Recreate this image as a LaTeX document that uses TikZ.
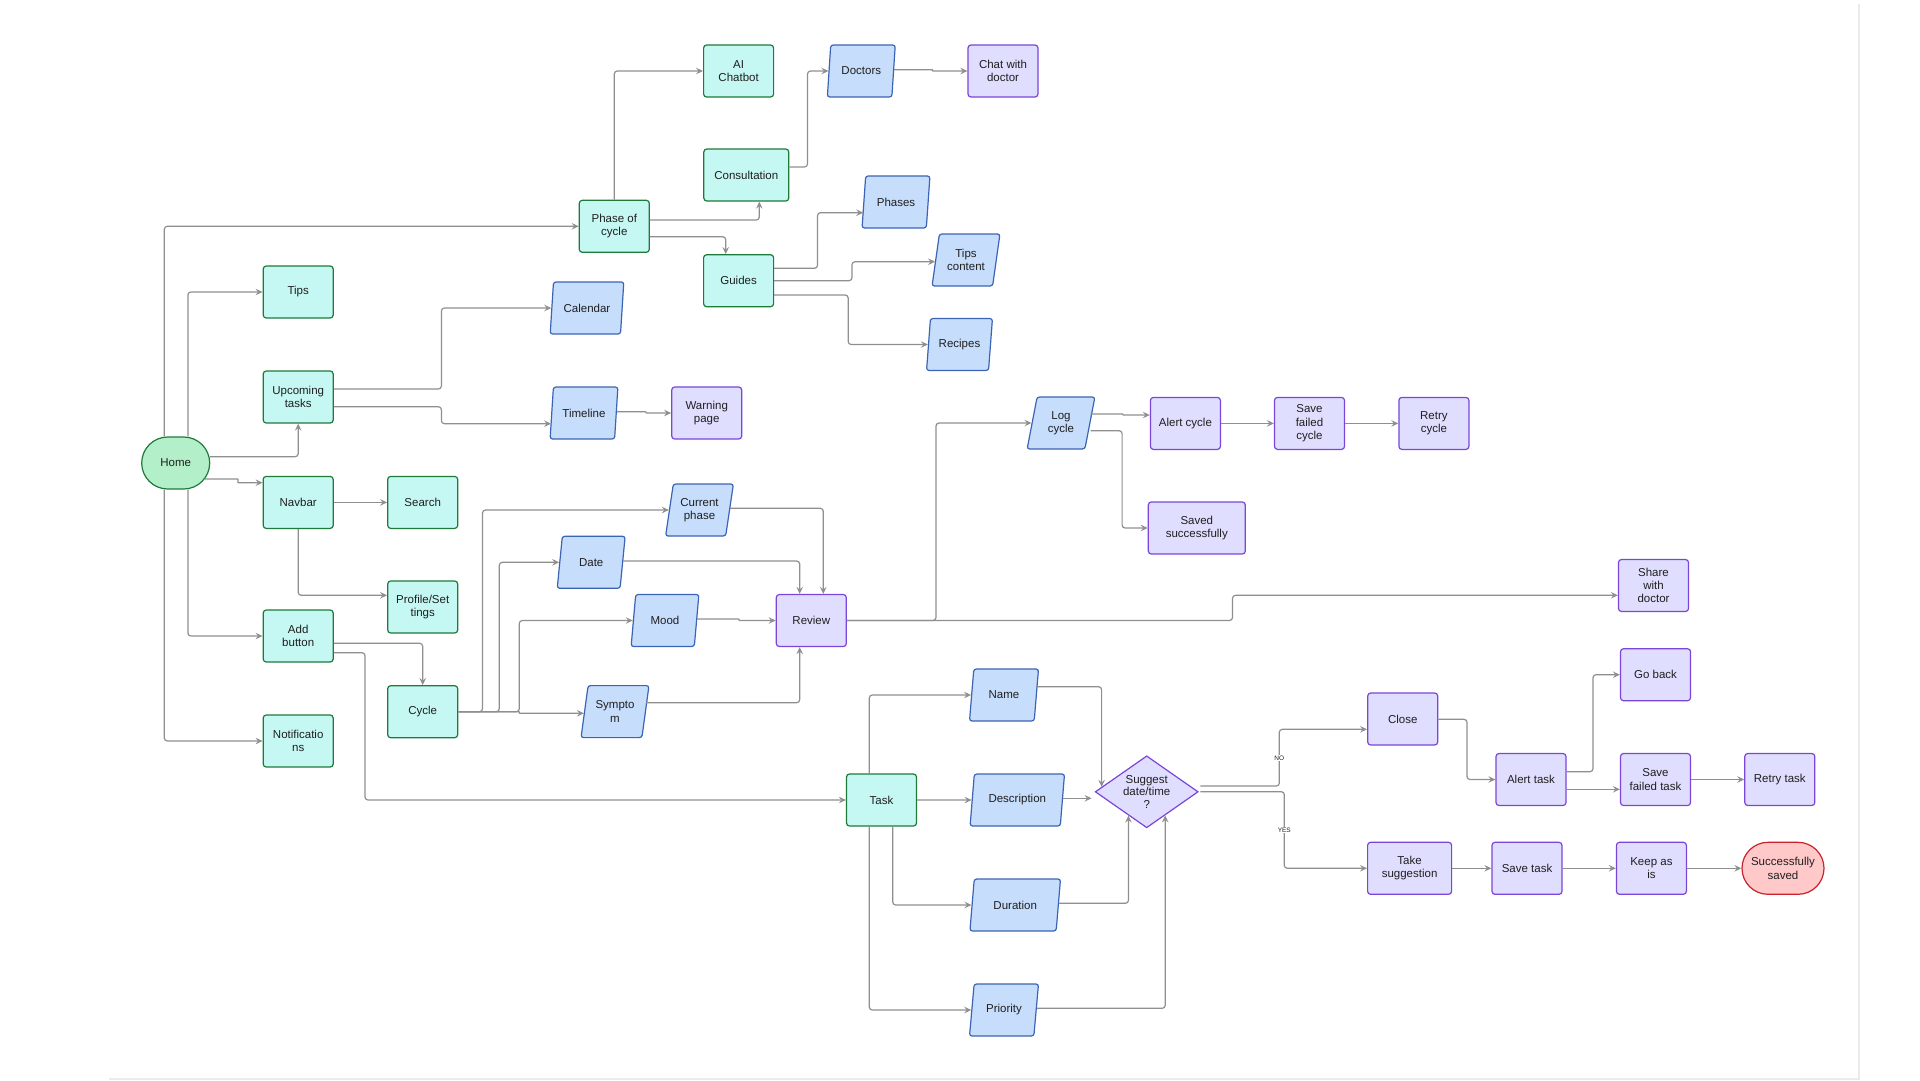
\documentclass[tikz,border=0pt]{standalone}
\usepackage{fontspec}
\setmainfont{Liberation Sans}
\usetikzlibrary{shapes.geometric,shapes.misc,arrows.meta,calc}

\definecolor{tealF}{HTML}{C5F8F2}
\definecolor{tealD}{HTML}{1F7A3A}
\definecolor{homeF}{HTML}{B3F0C9}
\definecolor{blueF}{HTML}{C7DDFC}
\definecolor{blueD}{HTML}{3C64B4}
\definecolor{purF}{HTML}{E0DEFF}
\definecolor{purD}{HTML}{7A45D8}
\definecolor{redF}{HTML}{FFC9C9}
\definecolor{redD}{HTML}{C8232C}
\definecolor{connc}{HTML}{8F8F8F}
\definecolor{txt}{HTML}{1F1F1F}
\definecolor{framec}{HTML}{EBEBEB}

\tikzset{
  base/.style={align=center, font=\fontsize{11.5}{13.3}\selectfont, text=txt,
    line width=1.2pt, inner sep=1pt, minimum height=52},
  proc/.style={base, rectangle, rounded corners=3, draw=tealD, fill=tealF, minimum width=#1},
  proc/.default=70,
  pur/.style={base, rectangle, rounded corners=3, draw=purD, fill=purF, minimum width=#1},
  pur/.default=70,
  inp/.style={base, trapezium, trapezium left angle=77, trapezium right angle=103,
    trapezium stretches=true, rounded corners=2.5, draw=blueD, fill=blueF, minimum width=#1},
  inp/.default=68,
  startnode/.style={base, rounded rectangle, draw=tealD, fill=homeF, minimum width=70},
  endnode/.style={base, rounded rectangle, draw=redD, fill=redF, minimum width=84},
  decis/.style={base, diamond, aspect=1.43, inner sep=0pt, draw=purD, fill=purF,
    font=\fontsize{11.5}{12.8}\selectfont, minimum width=103, minimum height=72},
  conn/.style={draw=connc, line width=1.2pt, rounded corners=3,
    -{Stealth[length=7pt,width=6.5pt,inset=2.5pt]}},
  jog/.style={conn, rounded corners=0.4},
  lbl/.style={font=\fontsize{6.5}{7}\selectfont, text=txt, fill=white, inner sep=0.6pt}
}

\begin{document}
\begin{tikzpicture}[x=1pt,y=-1pt]
\useasboundingbox (0,0) rectangle (1920,1080);
\draw[framec, line width=2pt] (1859,4) -- (1859,1079) -- (109,1079);

% ---------- nodes ----------
\node[startnode] (home) at (175.7,463) {Home};
\node[proc] (tips) at (298.2,292) {Tips};
\node[proc] (upcoming) at (298.2,397) {Upcoming\\tasks};
\node[proc] (navbar) at (298.2,502.4) {Navbar};
\node[proc] (add) at (298.2,636) {Add\\button};
\node[proc] (notif) at (298.2,741) {Notificatio\\ns};
\node[proc] (search) at (422.7,502.4) {Search};
\node[proc] (profile) at (422.7,607) {Profile/Set\\tings};
\node[proc] (cycle) at (422.7,711.7) {Cycle};
\node[proc] (phase) at (614.3,226.3) {Phase of\\cycle};
\node[proc] (ai) at (738.6,71) {AI\\Chatbot};
\node[proc=85] (consult) at (746.3,175) {Consultation};
\node[proc] (guides) at (738.6,280.7) {Guides};
\node[proc] (task) at (881.5,800) {Task};

\node[inp=74] (cal) at (587,308) {Calendar};
\node[inp] (timeline) at (584,413) {Timeline};
\node[inp] (cphase) at (699.5,510) {Current\\phase};
\node[inp] (date) at (591.2,562.3) {Date};
\node[inp] (mood) at (665,620.5) {Mood};
\node[inp] (symptom) at (615,711.6) {Sympto\\m};
\node[inp] (doctors) at (861.3,71) {Doctors};
\node[inp] (phases) at (896,202) {Phases};
\node[inp] (tipsc) at (966,260) {Tips\\content};
\node[inp=66] (recipes) at (959.5,344.5) {Recipes};
\node[inp] (logc) at (1061,423) {Log\\cycle};
\node[inp=69] (name) at (1004,695) {Name};
\node[inp=95] (desc) at (1017.3,800) {Description};
\node[inp=91] (duration) at (1015.2,905) {Duration};
\node[inp=69] (priority) at (1004,1010) {Priority};

\node[pur] (chat) at (1003,71) {Chat with\\doctor};
\node[pur] (warning) at (706.7,413) {Warning\\page};
\node[pur] (review) at (811.3,620.5) {Review};
\node[pur] (alertc) at (1185.4,423.4) {Alert cycle};
\node[pur] (savefc) at (1309.5,423.4) {Save\\failed\\cycle};
\node[pur] (retryc) at (1433.9,423.4) {Retry\\cycle};
\node[pur=97] (saved) at (1196.8,528) {Saved\\successfully};
\node[pur] (share) at (1653.5,585.5) {Share\\with\\doctor};
\node[pur] (close) at (1402.7,719) {Close};
\node[pur] (alertt) at (1531,779.5) {Alert task};
\node[pur] (goback) at (1655.5,674.7) {Go back};
\node[pur] (savet) at (1655.5,779.5) {Save\\failed task};
\node[pur] (retryt) at (1779.8,779.5) {Retry task};
\node[pur=84] (take) at (1409.6,868.3) {Take\\suggestion};
\node[pur] (savetask) at (1527,868.3) {Save task};
\node[pur] (keep) at (1651.4,868.3) {Keep as\\is};
\node[endnode] (success) at (1783,868.3) {Successfully\\saved};
\node[decis] (dec) at (1146.7,791.8) {Suggest\\date/time\\?};

\coordinate (dR) at ([xshift=1.5pt]dec.east);
\coordinate (dL) at ([xshift=-3pt]dec.west);

% ---------- connectors ----------
% Home
\draw[conn] (home.north -| 164.3,0) |- (phase.west);
\draw[conn] (home.north -| 187.9,0) |- (tips.west);
\draw[conn] ($(home.center)+(34.2,-6.3)$) -| (upcoming.south);
\draw[jog] ($(home.center)+(29.5,16)$) -- (237.9,479) -- (237.9,482.7) -- (navbar.west |- 0,482.7);
\draw[conn] (home.south -| 187.9,0) |- (add.west);
\draw[conn] (home.south -| 164.3,0) |- (notif.west);

% Upcoming tasks
\draw[conn] (upcoming.east |- 0,389) -- (441.4,389) |- (cal.west);
\draw[conn] (upcoming.east |- 0,406.7) -- (441.4,406.7) |- (timeline.west |- 0,423.7);
\draw[jog] (timeline.east |- 0,411.7) -- (646,411.7) -- (646,413) -- (warning.west);

% Navbar
\draw[conn] (navbar.east) -- (search.west);
\draw[conn] (navbar.south) |- (profile.west |- 0,595.3);

% Add button
\draw[conn] (add.east |- 0,643.3) -| (cycle.north);
\draw[conn] (add.east |- 0,652.7) -- (365,652.7) |- (task.west);

% Cycle
\draw[conn] (cycle.east) -- (482.5,711.7) |- (cphase.west);
\draw[conn] (cycle.east) -- (499.3,711.7) |- (date.west);
\draw[conn] (cycle.east) -- (519.3,711.7) |- (mood.west);
\draw[jog] (cycle.east) -- (519.3,711.7) -- (519.3,713.3) -- (symptom.west |- 0,713.3);

% into Review
\draw[conn] (cphase.east |- 0,508.3) -| (review.north -| 823.3,0);
\draw[conn] (date.east |- 0,561) -| (review.north -| 799.7,0);
\draw[jog] (mood.east |- 0,619) -- (739,619) -- (739,620.5) -- (review.west);
\draw[conn] (symptom.east |- 0,702.7) -| (review.south -| 799.7,0);

% Review out
\draw[conn] (review.east) -- (936,620.5) |- (logc.west);
\draw[conn] (review.east) -- (1232.5,620.5) |- (share.west |- 0,595.3);

% Phase of cycle
\draw[conn] (phase.north) |- (ai.west);
\draw[conn] (phase.east |- 0,220) -| (consult.south -| 759.3,0);
\draw[conn] (phase.east |- 0,236.7) -| (guides.north -| 725.7,0);
\draw[conn] (consult.east |- 0,167) -- (807.5,167) |- (doctors.west);
\draw[jog] (doctors.east |- 0,69.7) -- (932.5,69.7) -- (932.5,71) -- (chat.west);

% Guides
\draw[conn] (guides.east |- 0,268.3) -- (817.5,268.3) |- (phases.west |- 0,212.7);
\draw[conn] (guides.east) -- (852,280.7) |- (tipsc.west |- 0,261.7);
\draw[conn] (guides.east |- 0,295) -- (848.2,295) |- (recipes.west);

% Log cycle
\draw[jog] (logc.east |- 0,414) -- (1122.9,414) -- (1122.9,415) -- (alertc.west |- 0,415);
\draw[conn] (logc.east |- 0,430.7) -- (1122.1,430.7) |- (saved.west);
\draw[conn] (alertc.east) -- (savefc.west);
\draw[conn] (savefc.east) -- (retryc.west);

% Task
\draw[conn] (task.north -| 869.3,0) |- (name.west);
\draw[conn] (task.east) -- (desc.west);
\draw[conn] (task.south -| 892.7,0) |- (duration.west);
\draw[conn] (task.south -| 869.3,0) |- (priority.west);

% into decision
\draw[conn] (name.east |- 0,686.7) -| ($(dec.west)!0.135!(dec.north)$);
\draw[conn] (desc.east |- 0,798.3) -- (dL |- 0,798.3);
\draw[conn] (duration.east |- 0,903.3) -| ($(dec.west)!0.65!(dec.south)$);
\draw[conn] (priority.east |- 0,1008.3) -| ($(dec.east)!0.645!(dec.south)$);

% decision out
\draw[conn] (dR |- 0,786) -- (1279.3,786) |- (close.west |- 0,729.3);
\draw[conn] (dR |- 0,791.7) -- (1284.3,791.7) |- (take.west);
\node[lbl] (nolbl) at (1279.3,758) {NO};
\node[lbl] (yeslbl) at (1284.3,830) {YES};

% task failure branch
\draw[conn] (close.east |- 0,719.3) -- (1467,719.3) |- (alertt.west);
\draw[conn] (alertt.east |- 0,771.7) -- (1593,771.7) |- (goback.west);
\draw[conn] (alertt.east |- 0,789.3) -- (savet.west |- 0,789.3);
\draw[conn] (savet.east) -- (retryt.west);

% task success branch
\draw[conn] (take.east) -- (savetask.west);
\draw[conn] (savetask.east) -- (keep.west);
\draw[conn] (keep.east) -- (success.west);
\end{tikzpicture}
\end{document}
